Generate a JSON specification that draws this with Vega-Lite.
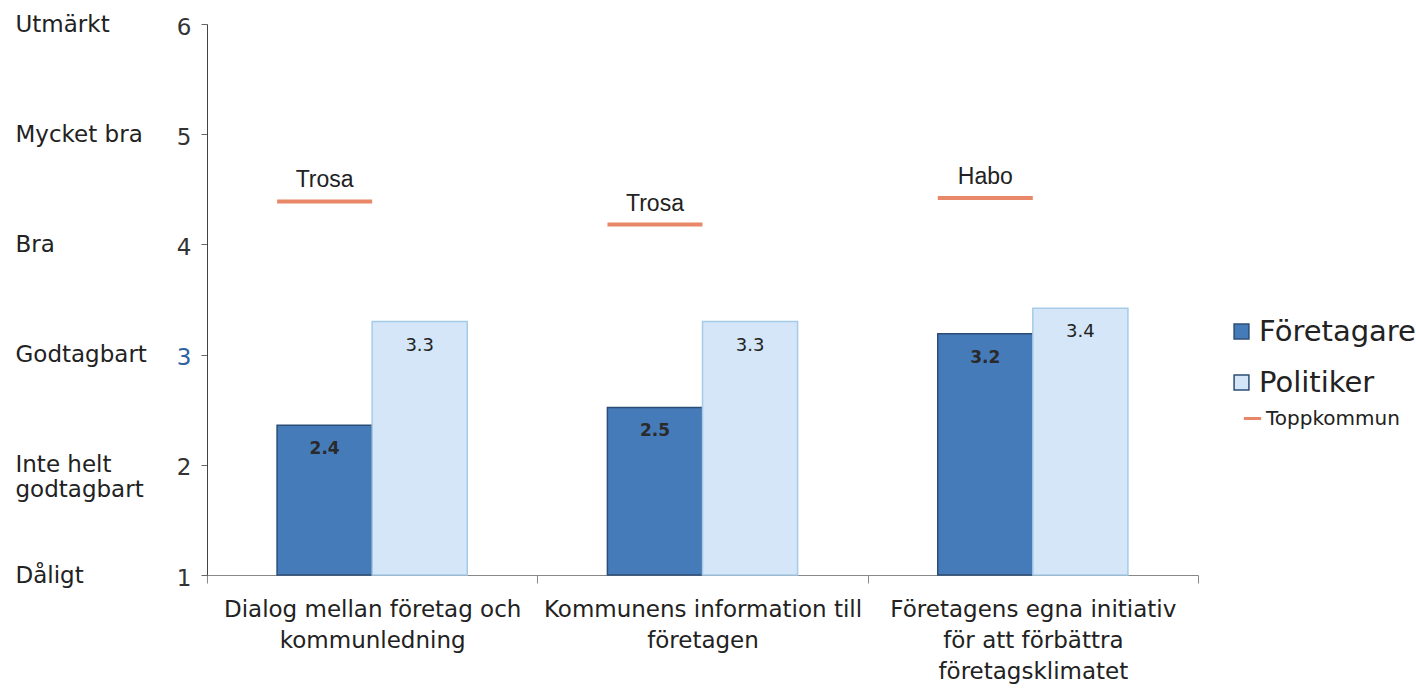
{
  "$schema": "https://vega.github.io/schema/vega-lite/v6.json",
  "width": 991,
  "height": 551,
  "autosize": {"type": "none"},
  "padding": {"left": 207, "top": 24, "right": 218, "bottom": 117},
  "background": "white",
  "config": {
    "font": "DejaVu Sans",
    "view": {"stroke": null},
    "axis": {"grid": false}
  },
  "datasets": {
    "bars": [
      {"kategori": "Dialog mellan företag och|kommunledning", "grupp": "Företagare", "varde": 2.36},
      {"kategori": "Dialog mellan företag och|kommunledning", "grupp": "Politiker", "varde": 3.3},
      {"kategori": "Kommunens information till|företagen", "grupp": "Företagare", "varde": 2.52},
      {"kategori": "Kommunens information till|företagen", "grupp": "Politiker", "varde": 3.3},
      {"kategori": "Företagens egna initiativ|för att förbättra|företagsklimatet", "grupp": "Företagare", "varde": 3.19},
      {"kategori": "Företagens egna initiativ|för att förbättra|företagsklimatet", "grupp": "Politiker", "varde": 3.42}
    ],
    "topp": [
      {"kategori": "Dialog mellan företag och|kommunledning", "grupp": "Företagare", "kommun": "Trosa", "varde": 4.39},
      {"kategori": "Kommunens information till|företagen", "grupp": "Företagare", "kommun": "Trosa", "varde": 4.18},
      {"kategori": "Företagens egna initiativ|för att förbättra|företagsklimatet", "grupp": "Företagare", "kommun": "Habo", "varde": 4.42}
    ]
  },
  "layer": [
    {
      "data": {"name": "bars"},
      "mark": {"type": "bar", "strokeWidth": 1.5},
      "encoding": {
        "x": {
          "field": "kategori", "type": "nominal", "sort": null,
          "scale": {"paddingInner": 0, "paddingOuter": 0},
          "axis": {
            "title": null, "labelAngle": 0, "labelFontSize": 23, "labelColor": "#222",
            "labelLineHeight": 31, "tickBand": "extent", "tickSize": 8, "labelLimit": 0,
            "tickColor": "#888", "domainColor": "#888", "labelPadding": 15,
            "labelExpr": "split(datum.label, '|')"
          }
        },
        "xOffset": {"field": "grupp", "type": "nominal", "scale": {"paddingInner": 0, "paddingOuter": 0.737}},
        "y": {
          "field": "varde", "type": "quantitative",
          "scale": {"domain": [1, 6], "zero": false, "nice": false},
          "axis": {
            "title": null, "values": [1, 2, 3, 4, 5, 6], "labelFontSize": 23, "labelOffset": 3,
            "labelColor": {"condition": {"test": "datum.value == 3", "value": "#2f62a3"}, "value": "#333"},
            "tickSize": 6, "tickColor": "#666", "domainColor": "#444", "labelPadding": 10
          }
        },
        "y2": {"datum": 1},
        "fill": {
          "field": "grupp", "type": "nominal",
          "scale": {"domain": ["Företagare", "Politiker"], "range": ["#467bba", "#d4e6f7"]},
          "legend": {
            "title": null, "orient": "none", "legendX": 1020, "legendY": 293,
            "labelFontSize": 29, "labelColor": "#222", "symbolType": "square", "symbolSize": 220,
            "symbolStrokeColor": "#2c4d75", "symbolStrokeWidth": 1.5, "rowPadding": 21, "labelOffset": 3
          }
        },
        "stroke": {
          "field": "grupp", "type": "nominal",
          "scale": {"domain": ["Företagare", "Politiker"], "range": ["#2c4d75", "#a5cbe8"]},
          "legend": null
        }
      }
    },
    {
      "data": {"name": "bars"},
      "transform": [{"filter": "datum.grupp == 'Företagare'"}],
      "mark": {"type": "text", "dy": 24, "baseline": "middle", "fontSize": 17, "fontWeight": "bold", "color": "#2a2a2a"},
      "encoding": {
        "x": {"field": "kategori", "type": "nominal", "sort": null},
        "xOffset": {"field": "grupp", "type": "nominal"},
        "y": {"field": "varde", "type": "quantitative", "axis": null},
        "text": {"field": "varde", "type": "quantitative", "format": ".1f"}
      }
    },
    {
      "data": {"name": "bars"},
      "transform": [{"filter": "datum.grupp == 'Politiker'"}],
      "mark": {"type": "text", "dy": 24, "baseline": "middle", "fontSize": 18, "color": "#222"},
      "encoding": {
        "x": {"field": "kategori", "type": "nominal", "sort": null},
        "xOffset": {"field": "grupp", "type": "nominal"},
        "y": {"field": "varde", "type": "quantitative", "axis": null},
        "text": {"field": "varde", "type": "quantitative", "format": ".1f"}
      }
    },
    {
      "data": {"name": "topp"},
      "mark": {"type": "tick", "thickness": 4, "size": 95, "fill": "#e0542a", "strokeWidth": 0, "orient": "horizontal"},
      "encoding": {
        "x": {"field": "kategori", "type": "nominal", "sort": null},
        "xOffset": {"field": "grupp", "type": "nominal"},
        "y": {
          "field": "varde", "type": "quantitative",
          "axis": {
            "orient": "left", "title": null, "values": [1, 2, 3, 4, 5, 6], "offset": 192,
            "domain": false, "ticks": false, "labelPadding": 0, "labelAlign": "left",
            "labelFontSize": 23, "labelColor": "#222", "labelLineHeight": 25, "labelLimit": 0,
            "labelExpr": "datum.value == 6 ? 'Utmärkt' : datum.value == 5 ? 'Mycket bra' : datum.value == 4 ? 'Bra' : datum.value == 3 ? 'Godtagbart' : datum.value == 2 ? ['Inte helt', 'godtagbart'] : 'Dåligt'"
          }
        },
        "stroke": {
          "datum": "Toppkommun",
          "scale": {"range": ["#e0542a"]},
          "legend": {
            "title": null, "orient": "none", "legendX": 1035, "legendY": 384,
            "labelFontSize": 20, "labelColor": "#222", "symbolType": "stroke",
            "symbolStrokeWidth": 3, "symbolSize": 300, "labelOffset": 3
          }
        }
      }
    },
    {
      "data": {"name": "topp"},
      "mark": {"type": "text", "dy": -21, "baseline": "middle", "fontSize": 23, "font": "Liberation Sans", "color": "#222"},
      "encoding": {
        "x": {"field": "kategori", "type": "nominal", "sort": null},
        "xOffset": {"field": "grupp", "type": "nominal"},
        "y": {"field": "varde", "type": "quantitative", "axis": null},
        "text": {"field": "kommun", "type": "nominal"}
      }
    }
  ],
  "resolve": {"axis": {"y": "independent"}, "scale": {"stroke": "independent"}}
}
